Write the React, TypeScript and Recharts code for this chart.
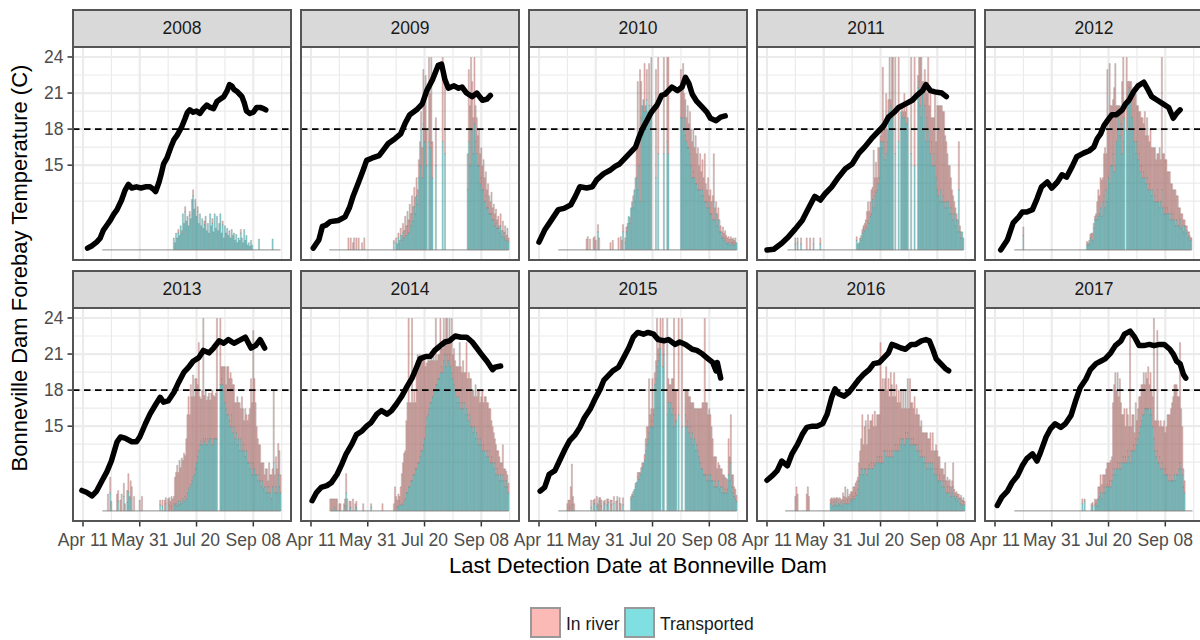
import React from 'react';
import { ComposedChart, Bar, Line, XAxis, YAxis, CartesianGrid, ReferenceLine } from 'recharts';

// ---------- axes / reference values ----------
const years = ['2008', '2009', '2010', '2011', '2012', '2013', '2014', '2015', '2016', '2017'];
const xTicks = [101, 151, 201, 251];
const xTickLabels = ['Apr 11', 'May 31', 'Jul 20', 'Sep 08'];
const xMinor = [126, 176, 226, 276];
const yTicks = [15, 18, 21, 24];
const yMinor = [12, 13.5, 16.5, 19.5, 22.5];
const xDomain: [number, number] = [92.2, 284.2];
const yDomain: [number, number] = [7.11, 24.83];
const threshold = 18;
const barBase = 7.95;
const legendLabels = ['In river', 'Transported'];

// ---------- temperature (day of year, deg C) ----------
const temp2008 = [[105,8.1],[109,8.3],[113,8.6],[116,8.9],[119,9.6],[122,10.0],[125,10.4],[128,10.9],[131,11.3],[135,12.1],[138,12.9],[141,13.4],[144,13.1],[148,13.2],[152,13.1],[156,13.2],[160,13.2],[163,13.0],[165,12.8],[168,13.6],[170,14.3],[172,15.1],[175,15.6],[178,16.4],[181,17.1],[184,17.5],[188,18.2],[191,18.9],[193,19.4],[195,19.6],[198,19.4],[201,19.5],[204,19.3],[207,19.7],[210,20.0],[213,19.8],[216,19.7],[219,20.3],[222,20.5],[225,20.7],[228,21.2],[230,21.7],[232,21.6],[234,21.3],[237,21.1],[239,20.9],[241,20.7],[243,20.2],[245,19.5],[248,19.3],[251,19.4],[254,19.8],[257,19.8],[260,19.7],[262,19.6]];
const temp2009 = [[103,8.1],[108,8.8],[111,9.9],[114,10.0],[118,10.3],[125,10.4],[131,10.7],[135,11.5],[138,12.4],[143,13.6],[147,14.6],[150,15.4],[155,15.6],[161,15.8],[165,16.3],[169,16.8],[175,17.2],[180,17.6],[184,18.5],[188,19.2],[194,19.6],[199,20.1],[203,21.2],[208,22.1],[213,23.3],[216,23.4],[219,22.1],[222,21.4],[227,21.6],[231,21.4],[234,21.5],[238,21.0],[243,20.7],[247,21.0],[252,20.4],[256,20.5],[259,20.8]];
const temp2010 = [[101,8.6],[106,9.6],[111,10.3],[118,11.3],[123,11.4],[129,11.7],[133,12.4],[137,13.2],[143,13.1],[148,13.2],[152,13.8],[158,14.3],[164,14.6],[168,14.9],[172,15.1],[177,15.6],[181,16.0],[186,16.5],[189,17.3],[192,18.0],[196,18.7],[200,19.4],[205,20.0],[209,20.8],[212,20.9],[218,21.5],[223,21.2],[227,21.5],[230,22.3],[233,21.8],[236,20.9],[240,20.3],[245,19.8],[249,19.4],[252,18.9],[257,18.7],[261,19.0],[265,19.1]];
const temp2011 = [[101,7.95],[107,8.0],[114,8.5],[120,9.05],[126,9.7],[132,10.4],[138,11.5],[143,12.4],[148,12.1],[152,12.6],[158,13.2],[164,14.0],[170,14.7],[176,15.1],[182,16.0],[187,16.5],[193,17.2],[199,17.8],[204,18.3],[208,19.0],[213,19.4],[217,19.8],[223,20.1],[229,20.4],[233,20.8],[238,21.2],[241,21.7],[245,21.2],[249,21.1],[255,21.0],[259,20.7]];
const temp2012 = [[106,7.95],[112,8.8],[117,10.2],[122,10.7],[125,11.1],[129,11.1],[134,11.3],[138,12.2],[142,13.2],[147,13.6],[151,13.1],[156,13.6],[160,14.2],[164,14.0],[169,14.9],[173,15.7],[179,16.0],[184,16.2],[188,16.5],[191,17.2],[194,17.6],[197,18.3],[200,18.7],[204,19.2],[208,19.2],[213,19.6],[216,20.1],[219,20.4],[223,21.1],[227,21.6],[232,21.9],[235,21.4],[239,20.7],[244,20.4],[249,20.1],[254,19.8],[258,18.9],[261,19.3],[264,19.6]];
const temp2013 = [[100,9.65],[104,9.5],[109,9.2],[113,9.6],[118,10.5],[122,11.2],[126,12.1],[131,13.7],[134,14.1],[138,14.0],[144,13.7],[148,13.7],[151,14.1],[156,15.2],[160,16.0],[165,16.8],[169,17.4],[172,17.0],[176,17.1],[181,17.8],[185,18.6],[190,19.5],[194,19.9],[198,20.4],[203,20.7],[207,21.3],[212,21.1],[216,21.5],[221,22.1],[225,21.9],[229,22.2],[234,21.9],[240,22.2],[244,22.4],[249,21.5],[253,21.7],[257,22.2],[261,21.5]];
const temp2014 = [[102,8.8],[106,9.5],[110,9.9],[115,10.05],[119,10.3],[124,11.0],[128,11.8],[132,12.7],[137,13.5],[141,14.3],[146,14.6],[150,15.0],[154,15.3],[159,16.0],[163,16.3],[168,16.0],[172,16.3],[176,16.8],[181,17.5],[185,18.2],[190,19.0],[194,19.9],[197,20.6],[202,20.8],[206,20.8],[210,21.3],[215,21.7],[219,22.0],[223,22.1],[228,22.5],[233,22.4],[238,22.4],[243,22.0],[247,21.5],[251,21.0],[256,20.4],[261,19.7],[263,19.9],[268,20.0]];
const temp2015 = [[102,9.6],[106,9.9],[110,11.0],[115,11.3],[119,12.1],[124,13.1],[128,13.8],[133,14.3],[137,14.9],[141,15.7],[146,16.4],[150,17.2],[155,18.1],[158,18.8],[162,19.2],[166,19.6],[171,19.9],[175,20.6],[180,21.5],[184,22.4],[188,22.8],[193,22.65],[197,22.8],[202,22.65],[206,22.2],[211,22.1],[215,22.2],[221,21.8],[225,22.0],[230,21.8],[236,21.4],[240,21.3],[245,21.0],[250,20.6],[254,20.3],[257,19.6],[258,20.3],[261,19.0]];
const temp2016 = [[101,10.5],[106,10.9],[110,11.3],[114,12.1],[119,11.7],[123,12.7],[128,13.5],[132,14.3],[136,14.9],[141,15.0],[145,15.0],[150,15.2],[154,16.0],[158,17.4],[161,18.1],[164,17.7],[169,17.5],[173,17.8],[178,18.4],[182,18.9],[186,19.3],[191,19.7],[195,20.2],[200,20.3],[204,20.7],[208,21.1],[211,21.8],[214,21.7],[219,21.5],[223,21.4],[228,21.8],[232,21.8],[237,22.1],[241,22.2],[244,22.1],[247,21.4],[250,20.6],[254,20.2],[258,19.8],[261,19.6]];
const temp2017 = [[103,8.4],[107,9.1],[112,9.6],[116,10.3],[121,10.9],[125,11.7],[129,12.3],[134,12.7],[138,12.1],[141,12.8],[146,14.1],[150,14.8],[154,15.2],[159,14.9],[163,15.2],[168,15.9],[172,17.1],[176,18.2],[181,18.9],[185,19.7],[190,20.2],[194,20.4],[198,20.6],[203,21.1],[207,21.7],[212,22.1],[215,22.65],[218,22.8],[220,22.9],[224,22.4],[228,21.7],[232,21.7],[237,21.8],[241,21.7],[246,21.8],[250,21.8],[255,21.4],[258,21.0],[261,20.4],[264,20.2],[267,19.3],[269,19.0]];

// ---------- daily detections (bar heights above the bar base), first day + daily values ----------
const barStart2008 = 181;
const span2008 = [118, 275];
const trans2008 = [1.0,.6,1.4,1.0,1.4,1.2,2.0,1.3,3.0,2.2, 3.2,2.4,2.8,2.0,2.9,2.6,4.2,4.5,3.4,4.2, 2.8,3.2,2.2,3.0,2.0,2.6,1.8,2.1,2.8,1.6, 2.2,1.4,3.0,2.0,2.2,1.5,3.0,1.8,2.8,1.6, 2.2,3.0,1.4,2.1,1.0,2.0,1.4,1.8,1.2,1.6, 1.0,1.7,1.2,1.4,.8,1.3,.6,1.0,.8,1.4, 1.0,.6,1.7,.8,1.2,.4,.6,.3,.8,.4, 0,0,0,0,0,.9,0,0,0,0, 0,0,0,0,0,0,0,.9];
const river2008 = [0,0,0,0,.3,0,0,.3,0,0, .4,0,0,0,.3,0,0,.5,0,0, 0,.4,0,0,0,0,0,.3,0,0, 0,0,0,0,.4,0,0,0,0,0, 0,0,0,.3,0,0,0,0,0,0, 0,0,0,0,0,0,0,0,0,.3];

const barStart2009 = 134;
const span2009 = [117, 275];
const trans2009 = [0,0,0,0,0,0,0,0,0,0, 0,0,0,0,0,0,0,0,0,0, 0,0,0,0,0,0,0,0,0,0, 0,0,0,0,0,0,0,0,0,0, .6,0,.6,.5,1.0,.5,1.2,.8,1.4,1.0, 1.6,1.2,2.0,1.4,2.4,2.0,3.0,2.4,3.6,3.0, 4.5,3.8,6.0,7,10,6,10.5,9,10,7, 0,9,8.5,8.9,6,0,0,7,0,0, 0,0,0,9,0,8,0,0,0,0, 0,0,0,0,0,0,0,0,0,0, 0,0,0,0,0,5,9,7,10,10, 8,10.5,9,8,7,7,5.5,6,5,5, 4,4.5,3.5,3.5,3,3,3,2.5,2.5,2, 2.2,1.8,1.8,1.4,2,1.1,1.6,1,1.4,.8, 1.2,.7];
const river2009 = [1.0,0,1.0,0,.6,1.0,0,1.0,0,1.0, 0,0,.6,0,1.0,0,0,0,0,0, 0,0,0,0,0,0,0,0,0,0, 0,0,0,0,0,0,0,0,0,0, .2,0,.4,0,.4,.3,.6,.4,.8,.6, 1.2,.8,1.2,1.1,1.4,1.0,1.5,1.2,1.6,1.4, 1.5,1.2,1.5,2,1.5,2.5,4.5,3,4.5,3, 0,7,4.5,7.1,3,0,0,4,0,0, 0,0,0,7,0,6,0,0,0,0, 0,0,0,0,0,0,0,0,0,0, 0,0,0,0,0,3,6,5,6,4, 3,5.5,3,3,2.5,3,2.5,2.5,2,2.5, 2,2,1.5,2,1.5,1,1.8,1,1.3,1, 1.2,.7,1,.6,1,.5,.8,.5,.6,.4, .6,.3];

const barStart2010 = 143;
const span2010 = [118, 275];
const trans2010 = [0,0,0,0,0,0,0,0,0,0, 1.5,0,0,0,0,0,0,0,0,0, 0,0,0,0,0,0,0,0,0,0, 0,0,1.5,0,.6,1.5,1.9,2.8,2.2,3.5, 4.0,3.5,5.0,4.0,6,5,7,4,11,12, 12.5,11.5,12,12.5,11.5,12,11,12,0,0, 0,6,0,8,0,0,0,0,8,0, 0,9,8,0,0,0,0,0,0,0, 0,0,0,11,11,10,11,9.5,9,8.5, 8.5,8,7,6,6.5,6,5.5,5.5,5,5, 5,4.5,5,4.5,4,4,3.5,4,3.5,3, 3,2.5,4,2.5,3,2,2.5,1.5,1.5,1, 1,.8,1,.6,.5,.6,.4,.6,.5,.6, .4,.6,.6];
const river2010 = [.9,1.1,0,.9,0,0,1.0,1.1,.8,0, .6,1.0,0,0,0,0,0,0,0,0, 0,.6,0,.8,0,0,0,0,1.0,0, 1.1,.8,.6,0,.4,.4,.3,0,.5,0, 0,1.0,0,2.0,3,9,2,11,3,0, 0,4,0,2.5,0,3.5,0,4,0,0, 0,9,0,8,0,0,0,0,8,0, 0,7,8,0,0,0,0,0,0,0, 0,0,0,4,3,5.5,2,3,2,3.5, 2,3.5,3,3,3.5,2.5,4,2.5,3.5,2, 3,2,2.5,1.5,4,1.5,1.5,2,1,2, 1,2,4,1,1,1,1,1,.5,.5, .9,.6,.6,.6,.5,.5,.5,.5,.4,.4, .4,.4,0];

const barStart2011 = 126;
const span2011 = [119, 274];
const trans2011 = [.5,0,.6,0,0,.5,0,0,0,0, 0,0,0,0,0,0,.5,0,0,0, 0,0,.5,0,0,0,0,0,0,0, 0,0,0,0,0,0,0,0,0,0, 0,0,0,0,0,0,0,0,0,0, 0,0,0,0,.8,.5,.6,1.0,.8,1.4, 1.8,1.6,2.0,1.8,2.4,2.2,2.8,3.0,4.2,3.5, 4.5,4.8,5.0,5.5,6.0,9.0,8.5,9.0,9.0,7.5, 8.0,9.0,11.5,11.0,12.0,11.5,11.0,0,8,0, 0,9,0,11.5,11,11.5,11,11.5,10.5,11, 0,0,8,0,0,7,0,0,13.5,14, 12,11,13,10,12,9,11,10,9,8, 9,7,8,7,6,5,4.5,4,5,4, 4.5,4,3.5,4,3.5,4,3,3.5,3,2.5, 3,2,2.5,1.5,5,1.5,1,1.5,1];
const river2011 = [.5,0,.4,0,0,.5,0,0,0,0, 1.0,0,0,1.0,0,0,.5,0,0,0, 0,0,.5,0,0,0,0,0,0,0, 0,0,0,0,0,0,0,0,0,0, 0,0,0,0,0,0,0,0,0,0, 0,0,0,0,.3,0,0,0,.4,.3, .2,.6,.5,1.4,1.6,1.0,1.2,2.0,1.0,4.8, 1.5,2.5,1.0,3.0,2.5,.5,2.0,6.2,1.5,3.0, 5.0,1.0,1.0,5.0,.5,4.5,5.0,0,8,0, 0,7,0,0,1,0,2,0,1.5,0, 0,0,8,0,0,9,0,0,1,2, 4,5,1,4,3,5,2,6,3,5, 2,4,3,6,3,7,7.5,8,7,8, 7,7.5,6,5,4.5,3,4,2.5,2,2, 1,1.5,.5,1,4,.5,.5,0,0];

const barStart2012 = 126;
const span2012 = [118, 274];
const trans2012 = [1.2,0,0,0,0,0,0,0,0,0, 0,0,0,0,0,0,0,0,0,0, 0,0,0,0,0,0,0,0,0,0, 0,0,0,0,0,0,0,0,0,0, 0,0,0,0,0,0,0,0,0,0, 0,0,0,0,0,0,.4,.6,.4,1.0, 1.4,.8,1.8,2.5,3.0,2.5,2.8,3.0,3.5,2.8, 4.0,4.5,3.5,5.0,4.0,6.0,5.5,7,7,8, 6.5,7,9,10,11,9.5,10.5,8,9,11, 0,10,13,13.5,12.5,13,11,10,9,8, 9,7.5,8,6.5,7,6,6.5,6,5.5,6, 5,5.5,5,4.5,5,4,4.5,4,5,4, 3.5,4,5,3.5,3,3.5,3,3.5,3,2.5, 3,2.5,3,2.5,2,2.5,2,2,2.5,1.8, 2,1.5,2,1.4,1.6,1,1.2,.8,1];
const river2012 = [.7,0,0,0,0,0,0,0,0,0, 0,0,0,0,0,0,0,0,0,0, 0,0,0,0,0,0,0,0,0,0, 0,0,0,0,0,0,0,0,0,0, 0,0,0,0,0,0,0,0,0,0, 0,0,0,0,0,0,.3,0,.4,.3, 0,.6,.4,.3,0,1.5,2.2,1.5,2.5,3.0, 2.0,3.5,5.0,3.0,11,4,10,5,5,4.5, 7,8.5,3,2,1,2.5,1,6,7,1, 0,6,1,.5,1.5,1,2,3.5,4,5, 3,4.5,3.5,5,4,5,4,5.5,4,5, 4.5,3.5,5,4,3.5,4.5,4,3.5,3,4, 5,3.5,11,4.5,5,4,4.5,3,3.5,4, 2.5,3,2,2.5,3,2,2.5,1.5,1,1.2, 1,1,.5,.6,.4,.5,.3,.3,0];

const barStart2013 = 122;
const span2013 = [118, 275];
const trans2013 = [0,0,0,1.5,0,0,0,0,0,0, .8,0,0,0,0,1.2,0,0,.7,1.6, 0,1.0,0,0,0,0,0,0,0,0, 0,0,0,0,0,0,0,0,0,0, 0,0,0,0,0,0,0,.5,0,.4, 0,0,.6,0,0,.5,0,.4,0,.6, .5,.6,.4,.8,.5,.8,.6,1,.8,1.2, 1,1.5,1.8,2,2.2,2.5,2.8,3,3.5,4, 4.5,5,5.5,5.8,5.5,6,5.8,6,5.5,6, 5.8,6,6,5.5,6,6,6,6,0,0, 10.5,11,10.5,10,9,8.5,8,8,7.5,7, 8,6.5,7,6,6.5,5.5,6,5,6,5, 5.5,5,4.5,5,4,4,3.5,4,3,4, 3.5,3,3,2.5,3,2.5,2,2.5,1.8,2, 1.5,2,1.5,2,1.5,1,2,4,1.5,2, 1.5,3,2,1.5];
const river2013 = [0,1.4,0,1.3,.8,0,0,0,0,1.4, .9,0,.9,1.4,0,1.1,.6,0,1.0,1.5, 1.2,1.5,2.0,0,1.2,0,0,0,0,.9, 0,1.2,0,0,0,0,0,0,0,0, 0,0,0,0,0,0,0,.4,0,.5, 0,.9,.5,0,1.0,.6,.8,.8,1.0,.6, 2.3,2.6,3.4,2.4,3.7,2.8,3.8,3.2,4,3.4, 5,6.5,7.7,6,8.3,7,8.5,6.5,7.5,7, 6,9,4,3.5,4.5,10,3.8,4,3.7,3.5, 4,3.2,3.8,4.5,3.6,3.5,3.8,10,0,0, 5.5,1,1.5,2,3,2,4,4,3.5,4.5, 3,4,3.5,3,2.5,4,3,4,2.5,4.5, 3,2.5,4,3,3.5,4,5,7,6,11, 7.5,6,4,3.5,2.5,3,2,1.5,2.2,1, 2,1.5,1,2,1.5,2,1.5,6,1.5,2.5, 2,2.6,3,1.5];

const barStart2014 = 118;
const span2014 = [118, 275];
const trans2014 = [0,0,0,0,.3,0,0,0,0,0, 0,0,0,.4,1.5,0,0,0,.3,0, 0,0,0,.3,0,0,0,0,0,0, 0,0,0,0,0,0,.3,0,0,0, 0,0,0,0,0,0,0,0,0,0, 0,0,0,0,0,0,0,0,0,.3, .4,.8,.5,.6,.5,.8,1,1.5,1.5,2, 2,2.5,2.5,3,3,3.5,3.5,4,4,4.5, 5,5,5.5,6,7,7.8,8,8.5,9,9, 9.5,10,10,10.5,10.5,11,11,11.5,12,11.5, 12.5,13,12,13,12.5,13,12,11.5,11,10.5, 10,9.5,9,9.5,9,8.5,9,8.5,9,8, 8.5,8,7.5,8,7,7,6.5,7,6,6.5, 6,5.5,6,5.5,5,5.5,5,4.5,5,4.5, 5,4,4.5,4,3.5,4,3,3.5,3,2.5, 3,2.5,3,2.5,2,2.5,2,1.5];
const river2014 = [1,1,1,1,.7,1,1,0,.6,.6, 0,0,.6,.6,1.6,1,0,.8,.5,0, 1,0,.6,.5,0,0,0,0,0,.6, 0,0,0,0,0,0,.3,0,0,0, 0,0,0,0,0,0,.6,0,0,0, 0,0,0,0,0,0,.6,2,1.2,.6, 1,.4,1.5,2.5,3.5,4,4,6,7.5,14, 7,6.5,13.5,6,7,5.5,9,9,8.5,8.5, 7.5,8,7,6.5,5,4.5,4.5,4,3.5,4, 3,3,2.5,5.5,2,2,2,4.5,1.5,2, 3.5,1,4,3,1.5,3,2.5,4.5,2,3, 2.5,2.5,3,2.5,5,3.5,2.5,4,2.5,3.5, 5.5,3,4,3,4,3,3.5,2.5,4.5,3, 4,4.5,3,4,5,3.5,4.5,5,4,4.5, 3.5,4.5,3,3,3,2,2.5,1.5,2,2, 1,1.5,2.5,1,1.5,.8,1,.8];

const barStart2015 = 126;
const span2015 = [118, 275];
const trans2015 = [0,0,.3,0,.5,0,0,0,0,0, 0,0,0,0,0,0,0,0,0,0, 0,.3,0,0,.6,0,.4,0,.8,0, .4,0,0,.6,0,.5,.7,0,0,.5, 0,.6,0,0,.8,0,.6,0,0,.5, 0,0,0,0,0,0,1.0,1.4,1.2,1.8, 2.0,2.4,2.8,2.6,3.2,3.0,3.6,4.0,4.2,5, 5.5,6,6.5,7,7.5,7,8,10.5,11,12, 12.5,13,13.5,0,12,13,0,0,8,9, 8.5,9,8,8.5,7,8,7.5,0,8,0, 0,7,0,0,8,7,7.5,6.5,7,6, 6.5,5.5,6,5,5.5,5,4.5,4,3.5,3.5, 3,3,3,2.5,3,2.5,3,2.5,2.5,2, 2.5,2,2,2.5,1.8,2,1.5,2,1.5,1.8, 1.5,1.8,3,2.5,4,2,1.5,1.2,1,.8];
const river2015 = [.6,.9,.6,2.0,3.4,1.2,.6,0,0,0, 0,0,0,0,0,0,0,0,0,0, 0,.6,0,.9,.4,0,.8,.6,.3,1.1, .5,0,.8,.3,0,.5,.3,0,.9,.4, 0,.6,0,.8,.4,0,.5,.6,0,.6, 0,0,0,0,0,0,.2,0,.4,0, .3,0,.4,.6,0,.6,.4,0,.5,1, 1.5,1,4.5,1,1,4,.5,1,1.5,4, 1,1.5,2.5,0,4,1,0,0,8,2, 2,1.5,3,2.5,9,2,2.5,0,8,0, 0,9,0,0,2,3,2.5,3,2.5,3, 2.5,3.5,2.5,3.5,3,3.5,4,4.5,5,5.5, 6,13,6,6.5,5,6,5,4.5,3.5,2.5, 2,2.5,1.5,1.5,2,1.5,2,1,1.5,1, 1.2,.8,3,2,4,1,1.5,.8,.8,.5];

const barStart2016 = 126;
const span2016 = [117, 275];
const trans2016 = [0,0,0,0,0,0,0,0,0,0, 0,0,0,0,0,0,0,0,0,0, 0,0,0,0,0,0,0,0,0,0, 0,.6,.8,.4,.7,.5,.8,.4,.6,.5, .7,.4,.9,.6,.8,.6,.9,.6,1,.8, 1,1.2,1,1.5,1.3,1.8,2.5,3,3.5,3.5, 3,3.5,3.5,3,3.5,3.8,3.5,4,3.5,4, 3.8,4,4.5,4,4.5,4,4.5,4,5,5, 4.5,5,4.5,5,4.5,5,4.5,5,5.5,5, 5.5,5,6,5.5,6,6,5.5,6.5,6,6.5, 6,5.5,6,5.5,6,5.5,5.5,5,5.5,5, 4.5,5,4.5,4,4.5,4,3.5,4,3.5,4, 3.5,4,3,3.5,3,3.5,2.5,3,2.5,2, 2.5,2,2.5,1.5,2,1.5,2,1.2,1.5,2, 1.2,1,1.2,.8,1,.6,1,.5,.8,.5];
const river2016 = [1.2,2.0,1.4,0,0,0,0,0,0,0, 1.4,2.0,1.2,0,0,0,0,0,0,0, 0,0,0,0,0,0,0,0,0,0, 0,.4,.3,.6,.4,.5,.3,.7,.4,.6, .3,.5,.6,.6,1.2,.5,.9,.6,.4,.8, .6,.8,1,.8,1.2,1,1.5,2,2.5,4.5, 2.5,3.5,4,2.5,4.5,3,4,3.5,4.5,3, 4.5,3,3.5,4,3.5,10,5.5,7,5,6, 7.5,5,6.5,4.5,7,5.5,5,6.5,4,5.5, 3.5,5,3,4.5,2.5,4,3,3.5,2.5,4.5, 2.5,5.5,3,3.5,2.5,4,2.5,3.5,2.5,3, 2.5,2.5,2,2.5,2,2.5,3,2,2.5,2.5, 1.5,2.5,2,1.5,2.5,1.5,2,1.5,1,1.5, 1,1,1.5,1,.8,1,.6,.8,1,2, .6,.5,.4,.6,.4,.5,.3,.4,.3,.3];

const barStart2017 = 178;
const span2017 = [118, 275];
const trans2017 = [.6,0,.8,0,0,0,0,0,0,.4, 0,.5,.6,.4,1,1.2,1.5,1,1.5,2, 1.5,2,2.2,2,2.5,2,2.5,3,3.5,3, 3.5,4,3.5,4,3.5,4,4.5,4,4.5,4, 5,4.5,4,5,5,5.5,5,6,5.5,6, 6.5,7,7.5,8,8,8.5,8.5,8.5,8.5,8, 8.5,8,7,6,5,4.5,5,4,4.5,3.5, 4,3.5,3,3.5,3,3,2.5,3,2.5,2.5, 2.5,3,2.5,3,3,3.5,4,3.5,3,2, 1.5];
const river2017 = [.4,0,.2,0,0,0,0,0,.6,.3, 0,.5,.3,.6,1,.8,1.5,1.2,1.5,1, 1.5,1.5,1.8,2,1.5,2.2,2,6,7,8.5, 6.5,7.5,6,7,5.5,4,3.5,4.5,2.5,4.5, 3,2.5,11,2,3,2.5,1.5,3,2,2.5, 3,2.5,3,2.5,3.5,2,3,2.5,3.5,2.5, 3,2,2.5,10,2.5,3,10,3.5,2.5,4, 3,3.5,4.5,3,4,5,5.5,5,6,6.5, 7,7.5,8,7.5,6.5,6,10,5,4,1.5, 1];

// ---------- table built from the arrays ----------
const panelSeries = [
  { temp: temp2008, start: barStart2008, trans: trans2008, river: river2008, span: span2008 },
  { temp: temp2009, start: barStart2009, trans: trans2009, river: river2009, span: span2009 },
  { temp: temp2010, start: barStart2010, trans: trans2010, river: river2010, span: span2010 },
  { temp: temp2011, start: barStart2011, trans: trans2011, river: river2011, span: span2011 },
  { temp: temp2012, start: barStart2012, trans: trans2012, river: river2012, span: span2012 },
  { temp: temp2013, start: barStart2013, trans: trans2013, river: river2013, span: span2013 },
  { temp: temp2014, start: barStart2014, trans: trans2014, river: river2014, span: span2014 },
  { temp: temp2015, start: barStart2015, trans: trans2015, river: river2015, span: span2015 },
  { temp: temp2016, start: barStart2016, trans: trans2016, river: river2016, span: span2016 },
  { temp: temp2017, start: barStart2017, trans: trans2017, river: river2017, span: span2017 },
];

type Row = { day: number; temp?: number; base?: number; trans?: number; river?: number };

function buildRows(s: typeof panelSeries[number]): Row[] {
  const map = new Map<number, Row>();
  const get = (d: number) => {
    let r = map.get(d);
    if (!r) { r = { day: d }; map.set(d, r); }
    return r;
  };
  s.temp.forEach(([d, t]) => { get(d).temp = t; });
  const n = Math.max(s.trans.length, s.river.length);
  for (let i = 0; i < n; i++) {
    const r = get(s.start + i);
    r.base = barBase;
    r.trans = s.trans[i] ?? 0;
    r.river = s.river[i] ?? 0;
  }
  return Array.from(map.values()).sort((a, b) => a.day - b.day);
}

// ---------- layout ----------
const FONT = "'Liberation Sans', Arial, Helvetica, sans-serif";
const PLOT_W = 218;
const PLOT_H = 213;
const COL_PITCH = 228;
const ROW_PITCH = 261;
const PLOT_LEFT0 = 73;
const PLOT_TOP0 = 47;
const STRIP_TOP0 = 10;
const YW = 50;
const SIDE = 16;
const XH = 40;
const BORDER = '#555555';
const GRID = '#EBEBEB';
const TICK_TEXT = '#4D4D4D';
const BAR_STROKE = '#707070';

const fmtX = (v: number) => {
  const i = xTicks.indexOf(v);
  return i >= 0 ? xTickLabels[i] : '';
};

function Panel({ idx }: { idx: number }) {
  const r = Math.floor(idx / 5);
  const c = idx % 5;
  const s = panelSeries[idx];
  const rows = buildRows(s);
  const showY = c === 0;
  const showX = r === 1;
  const plotLeft = PLOT_LEFT0 + COL_PITCH * c;
  const plotTop = PLOT_TOP0 + ROW_PITCH * r;
  const stripTop = STRIP_TOP0 + ROW_PITCH * r;
  const leftExtra = showY ? YW : SIDE;
  const w = PLOT_W + leftExtra + SIDE;
  const h = PLOT_H + (showX ? XH : 0);
  return (
    <>
      <div style={{ position: 'absolute', left: plotLeft - leftExtra, top: plotTop, width: w, height: h }}>
        <ComposedChart width={w} height={h} data={rows} margin={{ top: 0, right: SIDE, bottom: 0, left: showY ? 0 : SIDE }} barGap={0} barCategoryGap={0}>
          <CartesianGrid horizontalValues={yMinor} verticalValues={xMinor} stroke={GRID} strokeWidth={1.2} />
          <CartesianGrid horizontalValues={yTicks} verticalValues={xTicks} stroke={GRID} strokeWidth={2.2} />
          <XAxis
            dataKey="day" type="number" domain={xDomain} allowDataOverflow ticks={xTicks} interval={0}
            hide={!showX} height={XH} tickSize={5.5} tickMargin={7} axisLine={false}
            tickLine={{ stroke: '#333333', strokeWidth: 1.5 }}
            tick={{ fontSize: 17.5, fill: TICK_TEXT, fontFamily: FONT }} tickFormatter={fmtX}
          />
          <YAxis
            type="number" domain={yDomain} allowDataOverflow ticks={yTicks} interval={0}
            hide={!showY} width={YW} tickSize={5.5} tickMargin={4} axisLine={false}
            tickLine={{ stroke: '#333333', strokeWidth: 1.5 }}
            tick={{ fontSize: 17.5, fill: TICK_TEXT, fontFamily: FONT }}
          />
          <Line dataKey="temp" type="linear" stroke="#000000" strokeWidth={5.5} dot={false} connectNulls isAnimationActive={false} strokeLinejoin="round" strokeLinecap="round" />
          <Bar dataKey="base" stackId="s" fill="transparent" stroke="none" barSize={1.1} isAnimationActive={false} />
          <Bar dataKey="trans" stackId="s" fill="#00BFC4" fillOpacity={0.5} stroke={BAR_STROKE} strokeWidth={0.3} barSize={1.1} isAnimationActive={false} />
          <Bar dataKey="river" stackId="s" fill="#F8766D" fillOpacity={0.5} stroke={BAR_STROKE} strokeWidth={0.3} barSize={1.1} isAnimationActive={false} />
          <ReferenceLine segment={[{ x: s.span[0], y: barBase }, { x: s.span[1], y: barBase }]} stroke="#8C8C8C" strokeWidth={1} />
          <ReferenceLine y={threshold} stroke="#000000" strokeWidth={1.6} strokeDasharray="6.5 4.5" />
        </ComposedChart>
      </div>
      <div style={{ position: 'absolute', left: plotLeft - 1, top: plotTop - 1, width: PLOT_W + 2, height: PLOT_H + 2, border: `2px solid ${BORDER}`, boxSizing: 'border-box', pointerEvents: 'none' }} />
      <div style={{ position: 'absolute', left: plotLeft - 1, top: stripTop - 1, width: PLOT_W + 2, height: PLOT_TOP0 - STRIP_TOP0 + 2, border: `2px solid ${BORDER}`, boxSizing: 'border-box', background: '#D9D9D9', display: 'flex', alignItems: 'center', justifyContent: 'center', fontSize: 17.5, color: '#1A1A1A' }}>
        {years[idx]}
      </div>
    </>
  );
}

export default function App() {
  return (
    <div style={{ position: 'absolute', left: 0, top: 0, width: 1200, height: 640, overflow: 'hidden', background: '#FFFFFF', fontFamily: FONT }}>
      {years.map((y, i) => <Panel key={y} idx={i} />)}
      <div style={{ position: 'absolute', left: 20 - 260, top: 268 - 14, width: 520, height: 28, lineHeight: '28px', textAlign: 'center', fontSize: 22, color: '#000', transform: 'rotate(-90deg)', transformOrigin: '50% 50%' }}>
        Bonneville Dam Forebay Temperature (C)
      </div>
      <div style={{ position: 'absolute', left: 338, top: 552, width: 600, height: 28, lineHeight: '28px', textAlign: 'center', fontSize: 22, color: '#000' }}>
        Last Detection Date at Bonneville Dam
      </div>
      <div style={{ position: 'absolute', left: 530, top: 607, width: 31, height: 31, boxSizing: 'border-box', border: '2px solid #999999', background: '#FBBAB6' }} />
      <div style={{ position: 'absolute', left: 566, top: 611, height: 26, lineHeight: '26px', fontSize: 17.5, color: '#1A1A1A' }}>{legendLabels[0]}</div>
      <div style={{ position: 'absolute', left: 624, top: 607, width: 31, height: 31, boxSizing: 'border-box', border: '2px solid #999999', background: '#80DFE1' }} />
      <div style={{ position: 'absolute', left: 660, top: 611, height: 26, lineHeight: '26px', fontSize: 17.5, color: '#1A1A1A' }}>{legendLabels[1]}</div>
    </div>
  );
}
